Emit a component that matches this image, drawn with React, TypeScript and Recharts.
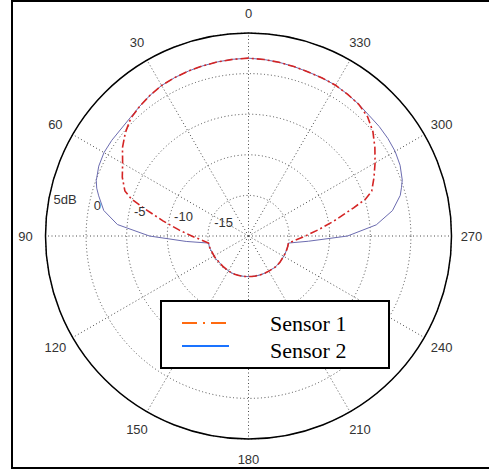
import React from 'react';
import { RadarChart, Radar, PolarGrid, PolarAngleAxis, PolarRadiusAxis } from 'recharts';

// angle in degrees (0 at top, counter-clockwise), gain in dB
const ANGLES = [
  0, 5, 10, 15, 20, 25, 30, 35, 40, 45, 50, 55, 60, 65, 70, 72.5, 75, 80, 85, 90, 95, 100,
  105, 110, 115, 120, 125, 130, 135, 140, 145, 150, 155, 160, 165, 170, 175, 180,
  185, 190, 195, 200, 205, 210, 215, 220, 225, 230, 235, 240, 245, 250, 255,
  260, 265, 270, 275, 280, 285, 287.5, 290, 295, 300, 305, 310, 315, 320, 325, 330, 335, 340, 345, 350, 355,
];

const SENSOR_1 = [
  1.9, 1.85, 1.78, 1.7, 1.62, 1.52, 1.4, 1.15, 0.85, 0.5, -0.2, -1.05, -2.1, -2.85, -3.8, -4.9, -6.6, -9.3, -11.4, -13.0, -14.2, -15.0,
  -15.0, -15.05, -15.1, -15.1, -15.1, -15.15, -15.15, -15.1, -15.1, -15.05, -15.0, -15.0, -15.0, -15.0, -15.0, -15.0,
  -15.0, -15.0, -15.0, -15.0, -15.0, -15.0, -15.0, -14.95, -14.95, -14.95, -15.0, -15.0, -15.0, -15.0, -15.0,
  -15.0, -14.2, -13.0, -11.4, -9.3, -6.6, -4.9, -3.85, -2.95, -2.0, -1.0, 0.0, 0.75, 1.15, 1.3, 1.44, 1.47, 1.5, 1.6, 1.72, 1.82,
];

const SENSOR_2 = [
  1.9, 1.85, 1.78, 1.7, 1.62, 1.52, 1.4, 1.15, 0.85, 0.6, 0.5, 0.55, 0.55, 0.35, -0.05, -0.4, -0.9, -1.9, -3.8, -7.8, -12.3, -15.0,
  -15.0, -15.05, -15.1, -15.1, -15.1, -15.15, -15.15, -15.1, -15.1, -15.05, -15.0, -15.0, -15.0, -15.0, -15.0, -15.0,
  -15.0, -15.0, -15.0, -15.0, -15.0, -15.0, -15.0, -14.95, -14.95, -14.95, -15.0, -15.0, -15.0, -15.0, -15.0,
  -15.0, -12.6, -7.8, -4.2, -2.0, -0.65, -0.25, 0.15, 0.6, 0.85, 0.95, 1.0, 1.0, 1.15, 1.3, 1.44, 1.47, 1.5, 1.6, 1.72, 1.82,
];

const ANGLE_TICKS = [0, 30, 60, 90, 120, 150, 180, 210, 240, 270, 300, 330];
const DB_TICKS = [-15, -10, -5, 0, 5];

const data = ANGLES.map((angle, i) => ({ angle, s1: SENSOR_1[i], s2: SENSOR_2[i] }));

const sans = "'Liberation Sans', Arial, sans-serif";

const AngleTick = (props: any) => {
  const { x, y, payload } = props;
  if (payload.value >= 360) return null;
  return (
    <text x={x} y={y} textAnchor="middle" dominantBaseline="central" fontSize={13} fill="#333" fontFamily={sans}>
      {payload.value}
    </text>
  );
};

const DbTick = (props: any) => {
  const { x, y, payload } = props;
  if (payload.value <= -20) return null;
  const label = payload.value === 5 ? '5dB' : String(payload.value);
  return (
    <text x={x + 6} y={y - 8} textAnchor="start" dominantBaseline="central" fontSize={13} fill="#333" fontFamily={sans}>
      {label}
    </text>
  );
};

export default function App() {
  return (
    <div style={{ position: 'fixed', left: 0, top: 0, width: 489, height: 469, background: '#fff', overflow: 'hidden' }}>
      <div
        style={{
          position: 'absolute',
          left: 11,
          top: 0,
          width: 490,
          height: 469,
          borderLeft: '2px solid #000',
          borderTop: '2px solid #000',
          borderBottom: '2px solid #000',
          boxSizing: 'border-box',
        }}
      />
      <RadarChart
        width={489}
        height={469}
        cx={248.5}
        cy={236}
        outerRadius={203}
        startAngle={90}
        endAngle={450}
        data={data}
        margin={{ top: 0, right: 0, bottom: 0, left: 0 }}
        style={{ position: 'absolute', left: 0, top: 0 }}
      >
        <PolarGrid gridType="circle" stroke="#4a4a4a" strokeDasharray="1 2.5" />
        <PolarAngleAxis
          dataKey="angle"
          type="number"
          domain={[0, 360]}
          ticks={ANGLE_TICKS}
          tickCount={13}
          tickLine={false}
          tickSize={20}
          tick={<AngleTick />}
          axisLine={{ stroke: '#000', strokeWidth: 1.5 }}
          axisLineType="circle"
        />
        <PolarRadiusAxis
          type="number"
          domain={[-20, 5]}
          ticks={DB_TICKS}
          tickCount={6}
          angle={172}
          axisLine={false}
          tickLine={false}
          tick={<DbTick />}
        />
        <Radar dataKey="s2" name="Sensor 2" stroke="#6c6cb0" strokeWidth={1} fill="none" fillOpacity={0} dot={false} isAnimationActive={false} />
        <Radar dataKey="s1" name="Sensor 1" stroke="#d42424" strokeWidth={1.6} strokeDasharray="8 3 2 3" fill="none" fillOpacity={0} dot={false} isAnimationActive={false} />
      </RadarChart>
      <svg width={230} height={69} style={{ position: 'absolute', left: 160, top: 300 }}>
        <rect x={1} y={1} width={228} height={67} fill="#fff" stroke="#000" strokeWidth={2} />
        <line x1={22} y1={23} x2={66} y2={23} stroke="#ff6a10" strokeWidth={2} strokeDasharray="15 6 2 6 15 50" />
        <line x1={22} y1={46} x2={69} y2={46} stroke="#1a73ff" strokeWidth={2} />
        <text x={110} y={23} dominantBaseline="central" fontSize={22} fontFamily="'Liberation Serif', 'Times New Roman', serif" fill="#000">
          Sensor 1
        </text>
        <text x={110} y={50} dominantBaseline="central" fontSize={22} fontFamily="'Liberation Serif', 'Times New Roman', serif" fill="#000">
          Sensor 2
        </text>
      </svg>
    </div>
  );
}
